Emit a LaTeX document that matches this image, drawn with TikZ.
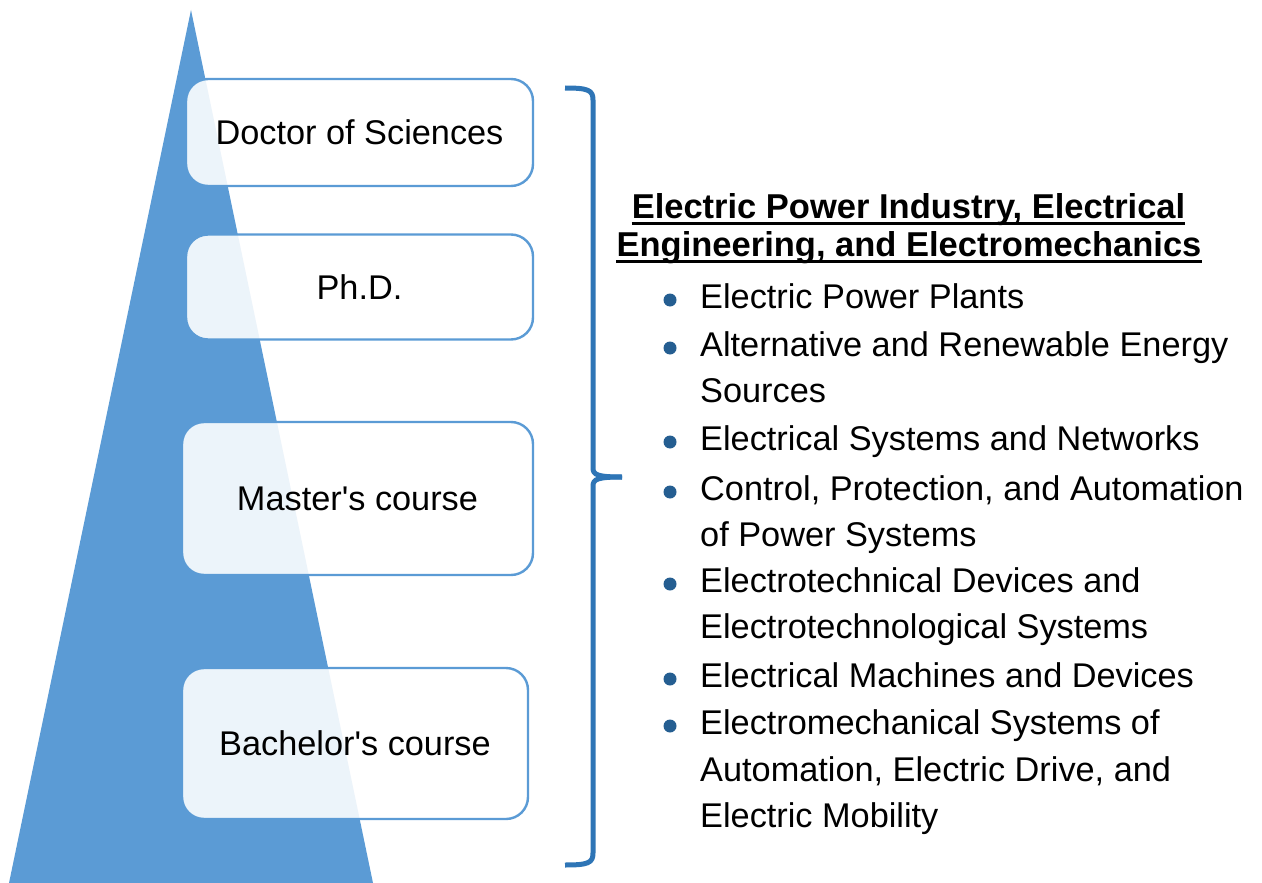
\documentclass[tikz,border=0pt]{standalone}
\usepackage{fontspec}
\setmainfont[Ligatures=TeXOff]{Liberation Sans}
\definecolor{tri}{HTML}{5B9BD5}
\definecolor{boxline}{HTML}{5B9BD5}
\definecolor{bracec}{HTML}{2E75B6}
\definecolor{dotc}{HTML}{255E91}
\tikzset{
  lvl/.style={draw=boxline, line width=2.4pt, fill=white, fill opacity=0.89, text opacity=1,
    rounded corners=22pt, inner sep=0pt, font=\fontsize{34.3}{40}\selectfont},
  ttl/.style={inner sep=0pt, anchor=base, font=\fontsize{34.5}{40}\selectfont\bfseries},
  itm/.style={inner sep=0pt, anchor=base west, font=\fontsize{34.3}{40}\selectfont},
  uline/.style={line width=3pt, black},
  dot/.style={circle, fill=dotc, inner sep=0pt, minimum size=13pt},
  brc/.style={draw=bracec, line width=5pt}
}
\begin{document}
\begin{tikzpicture}[x=1pt,y=-1pt]
\useasboundingbox (0,0) rectangle (1262,883);
% triangle
\fill[tri] (191,10) -- (373,883) -- (9,883) -- cycle;
% level boxes
\node[lvl, minimum width=347pt, minimum height=107pt] (doc) at (359.5,132.5) {Doctor of Sciences};
\node[lvl, minimum width=347pt, minimum height=105pt] (phd) at (359.5,287) {Ph.D.};
\node[lvl, minimum width=351pt, minimum height=153pt] (mst) at (357.5,498.5) {Master's course};
\node[lvl, minimum width=346pt, minimum height=151pt] (bch) at (355,743.5) {Bachelor's course};
% brace
\coordinate (btop) at (565,88);
\coordinate (bbot) at (565,865);
\coordinate (btip) at (622,477);
\draw[brc] (btop) .. controls (588,88) and (593,90) .. (593,100) -- (593,468)
  .. controls (593,475) and (598,477) .. (btip);
\draw[brc] (bbot) .. controls (588,865) and (593,863) .. (593,853) -- (593,486)
  .. controls (593,479) and (598,477) .. (btip);
% title
\node[ttl] (t1) at (908.5,218) {Electric Power Industry, Electrical};
\node[ttl] (t2) at (909,256) {Engineering, and Electromechanics};
\draw[uline] ([yshift=-5.5pt]t1.base west) -- ([yshift=-5.5pt]t1.base east);
\draw[uline] ([yshift=-5.5pt]t2.base west) -- ([yshift=-5.5pt]t2.base east);
% bullets
\node[dot] (d1) at (670,300) {};
\node[itm] (i1) at (700,308) {Electric Power Plants};
\node[dot] (d2) at (670,348) {};
\node[itm] (i2a) at (700,356) {Alternative and Renewable Energy};
\node[itm] (i2b) at (700,402) {Sources};
\node[dot] (d3) at (670,442) {};
\node[itm] (i3) at (700,450) {Electrical Systems and Networks};
\node[dot] (d4) at (670,492) {};
\node[itm] (i4a) at (700,500) {Control, Protection, and Automation};
\node[itm] (i4b) at (700,546) {of Power Systems};
\node[dot] (d5) at (670,584) {};
\node[itm] (i5a) at (700,592) {Electrotechnical Devices and};
\node[itm] (i5b) at (700,638) {Electrotechnological Systems};
\node[dot] (d6) at (670,679) {};
\node[itm] (i6) at (700,687) {Electrical Machines and Devices};
\node[dot] (d7) at (670,726) {};
\node[itm] (i7a) at (700,734) {Electromechanical Systems of};
\node[itm] (i7b) at (700,781) {Automation, Electric Drive, and};
\node[itm] (i7c) at (700,827) {Electric Mobility};
\end{tikzpicture}
\end{document}
